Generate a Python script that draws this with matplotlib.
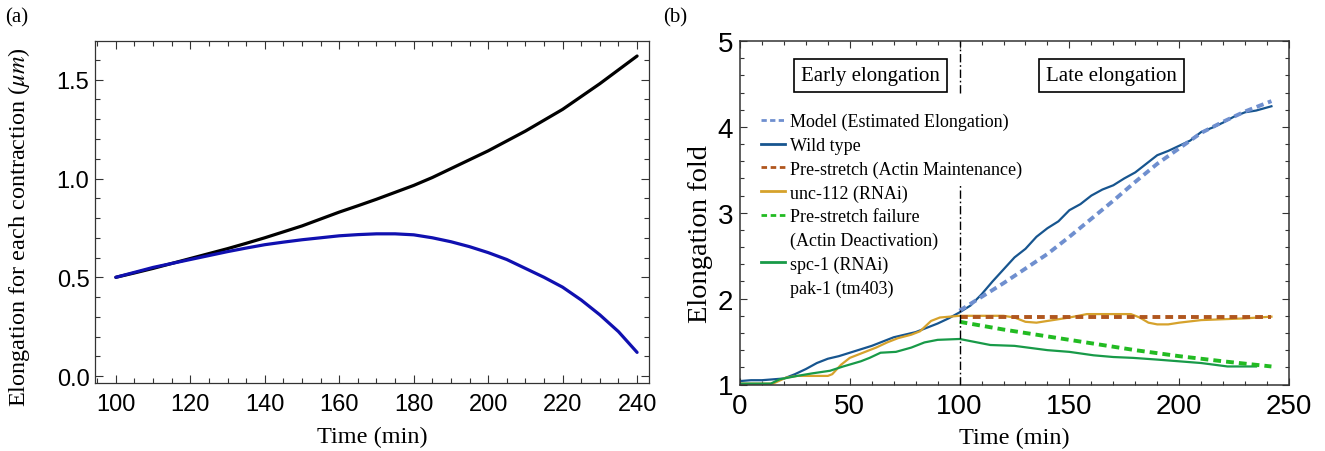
import matplotlib
matplotlib.use("Agg")
import matplotlib.pyplot as plt
from matplotlib.ticker import MultipleLocator

plt.rcParams['mathtext.fontset'] = 'stix'

# ---------------- Panel (a) data ----------------
t_a = [100, 105, 110, 115, 120, 125, 130, 135, 140, 145, 150, 155, 160, 165, 170,
       175, 180, 185, 190, 195, 200, 205, 210, 215, 220, 225, 230, 235, 240]
black_a = [0.50, 0.522, 0.545, 0.57, 0.595, 0.62, 0.645, 0.672, 0.70, 0.73, 0.76, 0.795, 0.83,
           0.862, 0.895, 0.93, 0.965, 1.005, 1.05, 1.095, 1.14, 1.19, 1.24, 1.295, 1.35, 1.415,
           1.48, 1.55, 1.62]
blue_a = [0.50, 0.525, 0.55, 0.57, 0.59, 0.61, 0.63, 0.648, 0.665, 0.678, 0.69, 0.70, 0.71,
          0.716, 0.72, 0.72, 0.715, 0.70, 0.68, 0.655, 0.625, 0.59, 0.545, 0.50, 0.45, 0.385,
          0.31, 0.225, 0.12]

# ---------------- Panel (b) data ----------------
t_wt = [0, 5, 10, 15, 20, 25, 30, 35, 40, 45, 50, 55, 60, 65, 70, 75, 80, 85, 90, 95, 100,
        105, 110, 115, 120, 125, 130, 135, 140, 145, 150, 155, 160, 165, 170, 175, 180, 185,
        190, 195, 200, 205, 210, 215, 220, 225, 230, 235, 242]
wild_type = [1.04, 1.05, 1.05, 1.06, 1.07, 1.12, 1.18, 1.25, 1.30, 1.33, 1.37, 1.41, 1.45, 1.50,
             1.55, 1.58, 1.61, 1.66, 1.71, 1.77, 1.84, 1.92, 2.05, 2.20, 2.34, 2.48, 2.58, 2.72,
             2.82, 2.90, 3.03, 3.10, 3.20, 3.27, 3.32, 3.40, 3.47, 3.57, 3.67, 3.72, 3.78, 3.84,
             3.94, 3.99, 4.05, 4.12, 4.17, 4.19, 4.24]

t_model = [100, 110, 120, 130, 140, 150, 160, 170, 180, 190, 200, 210, 220, 230, 242]
model = [1.86, 2.02, 2.18, 2.35, 2.52, 2.72, 2.93, 3.14, 3.36, 3.57, 3.75, 3.93, 4.06, 4.18, 4.30]

t_unc = [0, 15, 21, 26, 40, 42, 46, 50, 56, 62, 67, 72, 78, 82, 87, 91, 100, 110, 120, 125, 130,
         135, 140, 150, 158, 165, 178, 182, 186, 190, 195, 200, 210, 220, 230, 242]
unc112 = [1.01, 1.01, 1.08, 1.10, 1.10, 1.12, 1.23, 1.31, 1.37, 1.43, 1.49, 1.54, 1.58, 1.62, 1.74,
          1.78, 1.80, 1.80, 1.80, 1.78, 1.73, 1.72, 1.74, 1.78, 1.82, 1.82, 1.82, 1.78, 1.72, 1.70,
          1.70, 1.72, 1.75, 1.76, 1.77, 1.79]

t_pre = [100, 242]
prestretch = [1.79, 1.79]

t_fail = [100, 120, 140, 160, 180, 200, 220, 242]
prestretch_fail = [1.73, 1.64, 1.56, 1.48, 1.40, 1.33, 1.27, 1.21]

t_spc = [0, 14, 18, 26, 33, 41, 47, 55, 59, 64, 71, 78, 84, 90, 100, 106, 114, 125, 140, 150,
         161, 170, 179, 190, 200, 210, 222, 235]
spc1 = [1.01, 1.01, 1.06, 1.10, 1.13, 1.16, 1.21, 1.27, 1.31, 1.37, 1.38, 1.43, 1.49, 1.52, 1.53,
        1.50, 1.46, 1.45, 1.40, 1.38, 1.34, 1.32, 1.31, 1.29, 1.27, 1.25, 1.21, 1.21]

labels_b = ["Model (Estimated Elongation)", "Wild type", "Pre-stretch (Actin Maintenance)",
            "unc-112 (RNAi)", "Pre-stretch failure", "(Actin Deactivation)",
            "spc-1 (RNAi)", "pak-1 (tm403)"]

SERIF = ['Liberation Serif', 'DejaVu Serif']
SANS = ['Liberation Sans', 'DejaVu Sans']

fig = plt.figure(figsize=(13.25, 4.52), dpi=100)

# ---------------- Panel (a) ----------------
axa = fig.add_axes([95 / 1325, 1 - 384 / 452, (649 - 95) / 1325, (384 - 42) / 452])
axa.plot(t_a, black_a, color='black', lw=2.3, solid_capstyle='round')
axa.plot(t_a, blue_a, color='#1010b0', lw=2.3, solid_capstyle='round')
axa.set_xlim(94.4, 243.2)
axa.set_ylim(-0.035, 1.696)
axa.xaxis.set_major_locator(MultipleLocator(20))
axa.xaxis.set_minor_locator(MultipleLocator(5))
axa.yaxis.set_major_locator(MultipleLocator(0.5))
axa.yaxis.set_minor_locator(MultipleLocator(0.1))
axa.set_yticks([0.0, 0.5, 1.0, 1.5])
axa.set_yticklabels(['0.0', '0.5', '1.0', '1.5'])
axa.tick_params(which='both', direction='in', top=True, right=True, width=0.8, color='#333333')
axa.tick_params(which='major', length=6)
axa.tick_params(which='minor', length=3.5)
axa.tick_params(axis='y', which='major', pad=4)
axa.tick_params(axis='x', which='major', pad=7)
for lab in axa.get_xticklabels() + axa.get_yticklabels():
    lab.set_family(SANS)
    lab.set_fontsize(17)
for s in axa.spines.values():
    s.set_linewidth(0.9)
    s.set_color('#333333')
axa.set_xlabel('Time (min)', family=SERIF, fontsize=17.5, labelpad=8)
axa.set_ylabel(r'Elongation for each contraction ($\mu m$)', family=SERIF, fontsize=17.5)
axa.yaxis.set_label_coords(-0.114, 0.459)
fig.text(5 / 1325, 1 - 18 / 452, '(a)', family=SERIF, fontsize=15, va='center', ha='left')

# ---------------- Panel (b) ----------------
axb = fig.add_axes([740 / 1325, 1 - 385.5 / 452, (1289 - 740) / 1325, (385.5 - 42) / 452])
c_model = '#6f8fcf'
c_wt = '#17558f'
c_pre = '#b0561e'
c_unc = '#d6a22c'
c_fail = '#22bb22'
c_spc = '#189a48'

h_model, = axb.plot(t_model, model, color=c_model, lw=2.8, dashes=(1.9, 1.2), zorder=3)
h_wt, = axb.plot(t_wt, wild_type, color=c_wt, lw=1.6, zorder=2)
h_unc, = axb.plot(t_unc, unc112, color=c_unc, lw=1.6, zorder=2)
h_pre, = axb.plot(t_pre, prestretch, color=c_pre, lw=2.8, dashes=(2.0, 1.3), zorder=3)
h_fail, = axb.plot(t_fail, prestretch_fail, color=c_fail, lw=2.8, dashes=(2.0, 1.3), zorder=3)
h_spc, = axb.plot(t_spc, spc1, color=c_spc, lw=1.6, zorder=2)

# vertical dash-dot separator at t = 100
axb.plot([100, 100], [1, 3.32], color='black', lw=1.0, dashes=(6, 2, 1.2, 2), zorder=4)
axb.plot([100, 100], [4.4, 5], color='black', lw=1.0, dashes=(6, 2, 1.2, 2), zorder=4)

axb.set_xlim(0, 250)
axb.set_ylim(1, 5)
axb.xaxis.set_major_locator(MultipleLocator(50))
axb.xaxis.set_minor_locator(MultipleLocator(10))
axb.yaxis.set_major_locator(MultipleLocator(1))
axb.yaxis.set_minor_locator(MultipleLocator(0.2))
axb.tick_params(which='both', direction='in', top=True, right=True, width=0.8, color='#333333')
axb.tick_params(which='major', length=5)
axb.tick_params(which='minor', length=3)
axb.tick_params(axis='y', which='major', pad=5)
axb.tick_params(axis='x', which='major', pad=6)
for lab in axb.get_xticklabels() + axb.get_yticklabels():
    lab.set_family(SANS)
    lab.set_fontsize(20)
for s in axb.spines.values():
    s.set_linewidth(1.1)
    s.set_color('#333333')
axb.set_xlabel('Time (min)', family=SERIF, fontsize=17.5, labelpad=6)
axb.set_ylabel('Elongation fold', family=SERIF, fontsize=20.5)
axb.yaxis.set_label_coords(-0.049, 0.441)
fig.text(663 / 1325, 1 - 18 / 452, '(b)', family=SERIF, fontsize=15, va='center', ha='left')

box = dict(boxstyle='square,pad=0.35', fc='white', ec='black', lw=1.2)
axb.text(59.4, 4.60, 'Early elongation', family=SERIF, fontsize=15, ha='center', va='center', bbox=box)
axb.text(169.2, 4.60, 'Late elongation', family=SERIF, fontsize=15, ha='center', va='center', bbox=box)

blank1, = axb.plot([], [], color='none')
blank2, = axb.plot([], [], color='none')
handles = [h_model, h_wt, h_pre, h_unc, h_fail, blank1, h_spc, blank2]
leg = axb.legend(handles, labels_b, loc='upper left', bbox_to_anchor=(0.038, 0.79),
                 frameon=False, prop={'family': SERIF, 'size': 13}, handlelength=1.35,
                 handletextpad=0.25, labelspacing=0.36, borderpad=0, borderaxespad=0)
for line in leg.get_lines():
    line.set_linewidth(2.0)

fig.savefig('out.png', dpi=100)
